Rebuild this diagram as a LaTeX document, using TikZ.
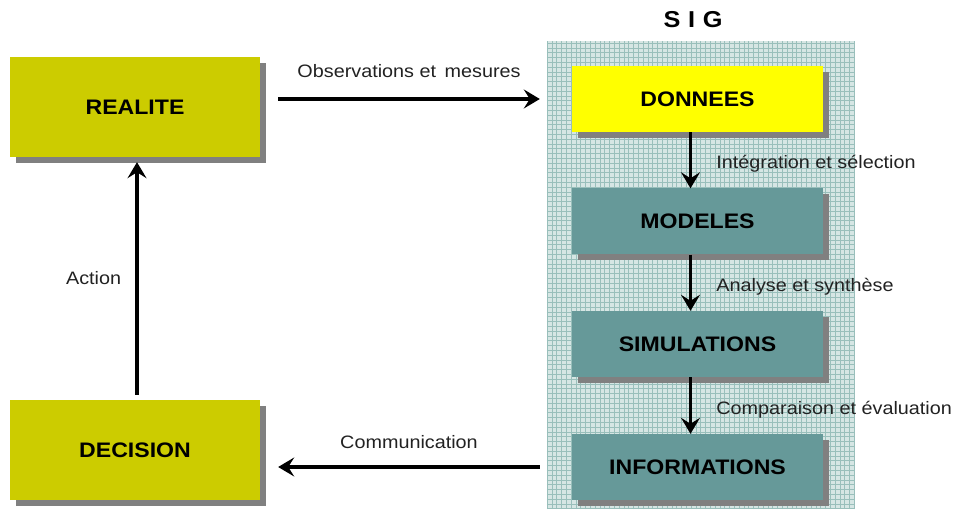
\documentclass[tikz,border=0pt]{standalone}
\usepackage{fontspec}
\setmainfont{Liberation Sans}[FakeStretch=1.1]
\usetikzlibrary{arrows.meta,shadows}
\definecolor{olivebox}{HTML}{CCCC00}
\definecolor{yellowbox}{HTML}{FFFF00}
\definecolor{tealbox}{HTML}{669999}
\definecolor{shadowgray}{HTML}{808080}
\definecolor{gridbg}{HTML}{D6E6E4}
\definecolor{gridline}{HTML}{99BFBB}
\definecolor{labelgray}{HTML}{222222}
\tikzset{
  boxbase/.style={rectangle, inner sep=0pt,
    font=\fontsize{21}{24}\selectfont\bfseries,
    general shadow={fill=shadowgray, shadow xshift=6pt, shadow yshift=-6pt}},
  bigbox/.style={boxbase, fill=olivebox, minimum width=250pt, minimum height=100pt},
  sigbox/.style={boxbase, minimum width=251pt, minimum height=66pt},
  flow/.style={line width=3.8pt, -{Stealth[length=16pt, width=19pt, inset=6pt]}},
  lbl/.style={font=\fontsize{18}{20}\selectfont, text=labelgray, inner sep=0pt},
}
\begin{document}
\begin{tikzpicture}[x=1pt, y=-1pt]
  \useasboundingbox (0,0) rectangle (959,510);
  \fill[white] (0,0) rectangle (959,510);

  % gridded background of the SIG column
  \node[rectangle, minimum width=308pt, minimum height=468pt, inner sep=0pt, fill=gridbg]
    (sig) at (701,275) {};
  \begin{scope}
    \clip (sig.south west) rectangle (sig.north east);
    \draw[gridline, line width=0.8pt, step=4.8pt] (sig.south west) grid (sig.north east);
  \end{scope}
  \node[font=\fontsize{23}{26}\selectfont\bfseries, inner sep=0pt] (title) at (693,20) {S\,\,I\,\,G};

  % boxes
  \node[bigbox] (r) at (135,107) {REALITE};
  \node[bigbox] (dec) at (135,450) {DECISION};
  \node[sigbox, fill=yellowbox] (d) at (697.5,99) {DONNEES};
  \node[sigbox, fill=tealbox] (m) at (697.5,221.5) {MODELES};
  \node[sigbox, fill=tealbox] (s) at (697.5,344) {SIMULATIONS};
  \node[sigbox, fill=tealbox] (i) at (697.5,467) {INFORMATIONS};

  % connectors
  \draw[flow] ([xshift=18pt]r.east |- d.west) -- ([xshift=-7pt]sig.west |- d.west)
    node[lbl, midway, above=19pt] (lobs) {Observations et\, mesures};
  \draw[flow] ([xshift=-7pt]d.south) -- ([xshift=-7pt]m.north)
    node[lbl, midway, anchor=west, xshift=24pt, yshift=-3pt] (lint) {Intégration et sélection};
  \draw[flow] ([xshift=-7pt]m.south) -- ([xshift=-7pt]s.north)
    node[lbl, midway, anchor=west, xshift=24pt, yshift=-4pt] (lana) {Analyse et synthèse};
  \draw[flow] ([xshift=-7pt]s.south) -- ([xshift=-7pt]i.north)
    node[lbl, midway, anchor=west, xshift=24pt, yshift=-4pt] (lcmp) {Comparaison et évaluation};
  \draw[flow] ([xshift=-7pt]sig.west |- i.west) -- ([xshift=18pt]dec.east |- i.west)
    node[lbl, midway, above=16pt] (lcom) {Communication};
  \draw[flow] ([xshift=2pt, yshift=5pt]dec.north) -- ([xshift=2pt, yshift=-5pt]r.south)
    node[lbl, midway, left=14pt] (lact) {Action};
\end{tikzpicture}
\end{document}
